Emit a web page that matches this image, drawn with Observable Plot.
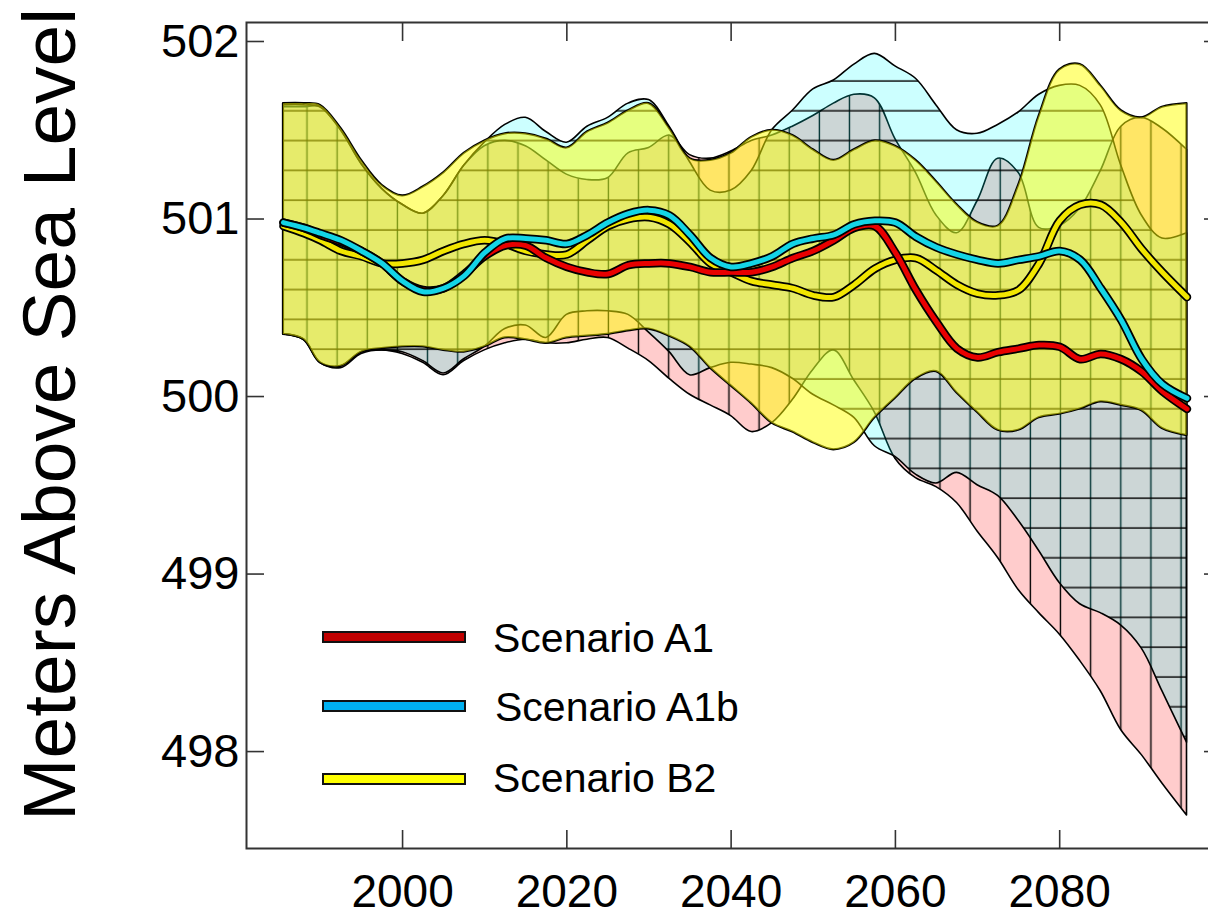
<!DOCTYPE html>
<html><head><meta charset="utf-8">
<script src="https://cdn.jsdelivr.net/npm/d3@7"></script>
<script src="https://cdn.jsdelivr.net/npm/@observablehq/plot@0.6"></script>
<style>
html,body{margin:0;padding:0;background:#fff;overflow:hidden;}
#wrap{position:relative;width:1208px;height:919px;overflow:hidden;font-family:"Liberation Sans",Arial,sans-serif;}
#wrap svg{max-width:none !important;display:block;}
.sw{position:absolute;left:322px;width:140px;height:8px;border:2px solid #111;}
.lt{position:absolute;font-size:41px;line-height:41px;color:#000;white-space:nowrap;}
</style></head><body><div id="wrap"></div>
<script>
const years = [1985.5,1988,1990,1992.5,1995,1997.5,2000,2002.5,2005,2007.5,2010,2012.5,2015,2017.5,2020,2022.5,2025,2027.5,2030,2032.5,2035,2037.5,2040,2042.5,2045,2047.5,2050,2052.5,2055,2057.5,2060,2062.5,2065,2067.5,2070,2072.5,2075,2077.5,2080,2082.5,2085,2087.5,2090,2092.5,2095.5];

// uncertainty bands (meters)
const b2Hi  = [501.65,501.65,501.64,501.51,501.33,501.19,501.13,501.18,501.26,501.37,501.44,501.48,501.48,501.45,501.40,501.49,501.54,501.61,501.65,501.51,501.34,501.33,501.37,501.46,501.50,501.47,501.39,501.33,501.39,501.44,501.41,501.33,501.21,501.08,500.98,500.96,501.19,501.58,501.84,501.87,501.75,501.61,501.57,501.63,501.65];
const b2Lo  = [500.35,500.32,500.19,500.17,500.25,500.27,500.28,500.28,500.26,500.25,500.28,500.33,500.32,500.30,500.33,500.34,500.35,500.37,500.38,500.34,500.28,500.16,500.06,499.96,499.85,499.80,499.74,499.70,499.74,499.88,499.99,500.10,500.14,500.02,499.91,499.81,499.81,499.88,499.90,499.93,499.97,499.95,499.92,499.82,499.78];
const a1bHi = [501.64,501.64,501.63,501.50,501.31,501.17,501.08,501.03,501.13,501.30,501.43,501.53,501.57,501.49,501.43,501.52,501.57,501.65,501.67,501.52,501.32,501.16,501.16,501.27,501.50,501.61,501.73,501.78,501.87,501.93,501.86,501.79,501.64,501.50,501.48,501.53,501.60,501.70,501.75,501.75,501.64,501.30,501.02,500.89,500.92];
const a1bLo = [500.35,500.32,500.19,500.17,500.25,500.26,500.25,500.20,500.13,500.21,500.28,500.38,500.40,500.33,500.46,500.48,500.48,500.46,500.36,500.25,500.12,500.16,500.19,500.18,500.16,500.10,500.01,499.95,499.88,499.72,499.66,499.56,499.51,499.57,499.50,499.44,499.30,499.13,498.95,498.83,498.78,498.71,498.58,498.34,498.05];
const a1Hi  = [501.63,501.63,501.63,501.50,501.31,501.17,501.08,501.03,501.13,501.30,501.41,501.44,501.41,501.33,501.25,501.22,501.23,501.37,501.40,501.47,501.36,501.34,501.38,501.44,501.47,501.52,501.58,501.65,501.70,501.68,501.45,501.26,501.02,500.92,501.10,501.34,501.26,500.95,500.96,501.06,501.27,501.52,501.57,501.51,501.39];
const a1Lo  = [500.35,500.32,500.19,500.16,500.24,500.26,500.24,500.19,500.12,500.20,500.26,500.30,500.32,500.30,500.30,500.32,500.33,500.27,500.20,500.10,500.01,499.95,499.89,499.80,499.85,499.98,500.15,500.26,500.09,499.91,499.65,499.54,499.49,499.40,499.24,499.09,498.91,498.78,498.66,498.51,498.34,498.12,497.98,497.82,497.64];

// scenario mean lines (meters)
const a1Line  = [500.98,500.95,500.91,500.87,500.82,500.75,500.65,500.60,500.61,500.69,500.79,500.85,500.85,500.78,500.73,500.70,500.69,500.74,500.75,500.75,500.73,500.70,500.70,500.70,500.73,500.78,500.82,500.88,500.95,500.96,500.81,500.60,500.42,500.27,500.22,500.25,500.27,500.29,500.28,500.21,500.24,500.21,500.14,500.03,499.93];
const a1bLine = [500.98,500.95,500.92,500.88,500.82,500.75,500.65,500.59,500.61,500.68,500.81,500.89,500.89,500.88,500.86,500.91,500.98,501.03,501.05,501.02,500.91,500.78,500.73,500.75,500.79,500.86,500.89,500.91,500.97,500.99,500.98,500.90,500.84,500.80,500.77,500.75,500.77,500.79,500.82,500.77,500.61,500.43,500.21,500.07,499.99];
const b2Line  = [500.96,500.92,500.88,500.82,500.79,500.75,500.75,500.77,500.82,500.86,500.88,500.86,500.82,500.80,500.80,500.88,500.96,501.00,501.01,500.97,500.87,500.75,500.70,500.65,500.63,500.61,500.57,500.56,500.63,500.72,500.77,500.78,500.71,500.63,500.58,500.57,500.60,500.75,500.99,501.08,501.08,500.98,500.83,500.70,500.56];

const xTicks = [2000, 2020, 2040, 2060, 2080];
const yTicks = [498, 499, 500, 501, 502];
const scenarios = ["Scenario A1", "Scenario A1b", "Scenario B2"];
const legendColors = ["#c00000", "#00b0f0", "#ffff00"];
const yLabel = "Meters Above Sea Level";

const rows = years.map((year, i) => ({
  year, b2Hi: b2Hi[i], b2Lo: b2Lo[i], a1bHi: a1bHi[i], a1bLo: a1bLo[i],
  a1Hi: a1Hi[i], a1Lo: a1Lo[i], a1: a1Line[i], a1b: a1bLine[i], b2: b2Line[i]
}));

const curve = "catmull-rom";
const band = (lo, hi, o) => Plot.areaY(rows, {x: "year", y1: lo, y2: hi, curve, ...o});
const line = (key, color) => [
  Plot.line(rows, {x: "year", y: key, curve, stroke: "#000", strokeWidth: 8.5}),
  Plot.line(rows, {x: "year", y: key, curve, stroke: color, strokeWidth: 5})
];

const chart = Plot.plot({
  width: 1224, height: 919,
  marginLeft: 246, marginRight: 3, marginTop: 22, marginBottom: 71,
  x: {domain: [1981, 2099.7], axis: null},
  y: {domain: [497.454, 502.107], axis: null},
  style: {fontFamily: "Liberation Sans, Arial, sans-serif", background: "white", color: "#000", maxWidth: "none"},
  marks: [
    // A1 band: pink with vertical hatch
    band("a1Lo", "a1Hi", {fill: "#ffcccc"}),
    band("a1Lo", "a1Hi", {fill: "url(#vhatch)"}),
    band("a1Lo", "a1Hi", {fill: "none", stroke: "#000", strokeWidth: 1.6}),
    // A1b band: translucent cyan with horizontal hatch
    band("a1bLo", "a1bHi", {fill: "#00ffff", fillOpacity: 0.2}),
    band("a1bLo", "a1bHi", {fill: "url(#hhatch)"}),
    band("a1bLo", "a1bHi", {fill: "none", stroke: "#000", strokeWidth: 1.6}),
    // B2 band: translucent yellow on top
    band("b2Lo", "b2Hi", {fill: "none", stroke: "#000", strokeWidth: 2.2}),
    band("b2Lo", "b2Hi", {fill: "#ffff00", fillOpacity: 0.5}),
    // scenario lines
    ...line("b2", "#f2e600"),
    ...line("a1", "#e80000"),
    ...line("a1b", "#14d4e6"),
    // frame and axes
    Plot.frame({stroke: "#333", strokeWidth: 2}),
    Plot.axisY(yTicks, {anchor: "left", tickSize: 18, dx: 18, tickFormat: () => "", stroke: "#333", strokeWidth: 1.6, label: null}),
    Plot.axisY(yTicks, {anchor: "right", tickSize: 18, dx: -18, tickFormat: () => "", stroke: "#333", strokeWidth: 1.6, label: null}),
    Plot.axisX(xTicks, {anchor: "top", tickSize: 18, dy: 18, tickFormat: () => "", stroke: "#333", strokeWidth: 1.6, label: null}),
    Plot.axisX(xTicks, {anchor: "bottom", tickSize: 18, dy: -18, tickFormat: () => "", stroke: "#333", strokeWidth: 1.6, label: null}),
    Plot.axisY(yTicks, {anchor: "left", tickSize: 0, tickPadding: 7, fontSize: 47, tickFormat: d => String(d), label: null}),
    Plot.axisX(xTicks, {anchor: "bottom", tickSize: 0, tickPadding: 26, fontSize: 46, tickFormat: d => String(d), label: null}),
    Plot.text([yLabel], {frameAnchor: "left", rotate: -90, dx: -196, dy: -21, fontSize: 75, textAnchor: "middle", lineAnchor: "middle", fill: "#000"})
  ]
});

// hatch patterns
const svg = d3.select(chart);
svg.style("max-width", "none");
const defs = svg.insert("defs", ":first-child");
const pv = defs.append("pattern").attr("id", "vhatch").attr("patternUnits", "userSpaceOnUse")
  .attr("x", 292).attr("y", 0).attr("width", 30.14).attr("height", 20);
pv.append("line").attr("x1", 15).attr("x2", 15).attr("y1", 0).attr("y2", 20).attr("stroke", "#000").attr("stroke-width", 1.4);
const ph = defs.append("pattern").attr("id", "hhatch").attr("patternUnits", "userSpaceOnUse")
  .attr("x", 0).attr("y", 66).attr("width", 20).attr("height", 29.8);
ph.append("line").attr("x1", 0).attr("x2", 20).attr("y1", 15).attr("y2", 15).attr("stroke", "#000").attr("stroke-width", 1.4);

const wrap = document.getElementById("wrap");
wrap.appendChild(chart);

// legend overlay
const swTops = [631, 700, 773];
const txtTops = [618, 687, 758];
const txtLefts = [493, 495, 493];
scenarios.forEach((s, i) => {
  const sw = document.createElement("div");
  sw.className = "sw";
  sw.style.top = swTops[i] + "px";
  sw.style.background = legendColors[i];
  wrap.appendChild(sw);
  const t = document.createElement("div");
  t.className = "lt";
  t.style.top = txtTops[i] + "px";
  t.style.left = txtLefts[i] + "px";
  t.textContent = s;
  wrap.appendChild(t);
});
</script></body></html>
